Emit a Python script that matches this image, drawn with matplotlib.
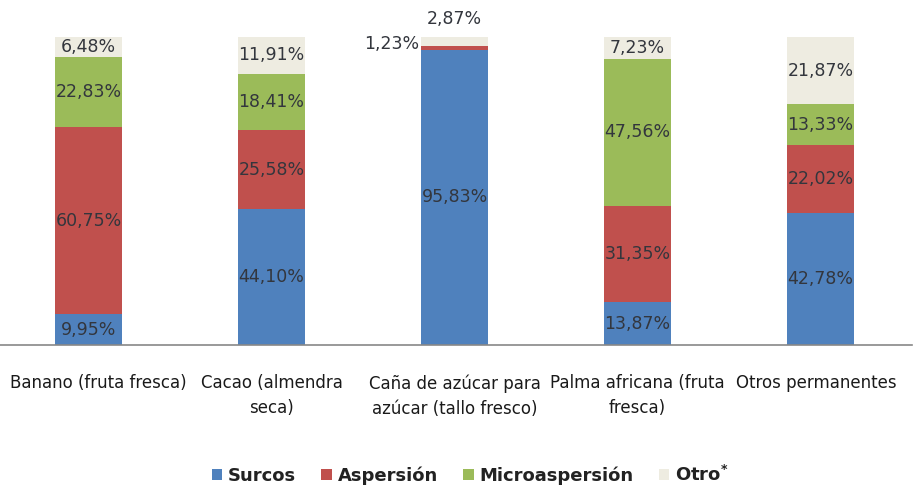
import matplotlib
matplotlib.use("Agg")
import matplotlib.pyplot as plt
import matplotlib.transforms as mtransforms
import numpy as np

categories = ["Banano (fruta fresca)", "Cacao (almendra\nseca)",
              "Caña de azúcar para\nazúcar (tallo fresco)",
              "Palma africana (fruta\nfresca)", "Otros permanentes"]
series_names = ["Surcos", "Aspersión", "Microaspersión", "Otro$^{\\mathbf{*}}$"]
surcos = [9.95, 44.10, 95.83, 13.87, 42.78]
aspersion = [60.75, 25.58, 1.23, 31.35, 22.02]
microaspersion = [22.83, 18.41, 0.07, 47.56, 13.33]
otro = [6.48, 11.91, 2.87, 7.23, 21.87]
colors = ["#4F81BD", "#C0504D", "#9BBB59", "#EEECE1"]

plt.rcParams['font.family'] = ['Liberation Sans Narrow', 'DejaVu Sans']

fig = plt.figure(figsize=(9.17, 4.88), dpi=100)
ax = fig.add_axes([-3/917, 143/488, 915/917, 308/488])

x = np.arange(len(categories))
width = 0.366
data = [surcos, aspersion, microaspersion, otro]
bottom = np.zeros(len(categories))
txtc = "#33363d"
for si, (vals, c, name) in enumerate(zip(data, colors, series_names)):
    vals = np.array(vals)
    ax.bar(x, vals, width, bottom=bottom, color=c, label=name)
    for i, v in enumerate(vals):
        if i == 2 and si != 0:
            continue
        ax.text(x[i], bottom[i] + v / 2, f"{v:.2f}%".replace(".", ","),
                ha="center", va="center", fontsize=12.5, color=txtc)
    bottom += vals

# special labels for sugar cane small segments
ax.text(x[2] - width / 2 - 0.01, 97.8, f"{aspersion[2]:.2f}%".replace(".", ","),
        ha="right", va="center", fontsize=12.5, color=txtc, clip_on=False)
ax.text(x[2], 106, f"{otro[2]:.2f}%".replace(".", ","),
        ha="center", va="center", fontsize=12.5, color=txtc, clip_on=False)

ax.set_xlim(-0.5, 4.5)
ax.set_ylim(0, 100)
ax.set_yticks([])
ax.set_xticks(x)
ax.set_xticklabels(categories, fontsize=12, color="#1a1a1a", linespacing=1.5)
ax.tick_params(axis="x", length=0, pad=21)
shifts = [10, 0, 0, 0, -4]
for lbl, dx in zip(ax.get_xticklabels(), shifts):
    lbl.set_transform(lbl.get_transform() +
                      mtransforms.ScaledTranslation(dx / 100, 0, fig.dpi_scale_trans))
for s in ["top", "right", "left"]:
    ax.spines[s].set_visible(False)
ax.spines["bottom"].set_color("#888888")
ax.spines["bottom"].set_linewidth(1.2)

leg = fig.legend(loc="center", bbox_to_anchor=(470/917, 13/488), ncol=4, frameon=False,
                 prop={"weight": "bold", "size": 13}, handlelength=0.6, handleheight=0.6,
                 columnspacing=1.4, handletextpad=0.3)
for t in leg.get_texts():
    t.set_color("#222222")

fig.savefig("out.png", dpi=100)
